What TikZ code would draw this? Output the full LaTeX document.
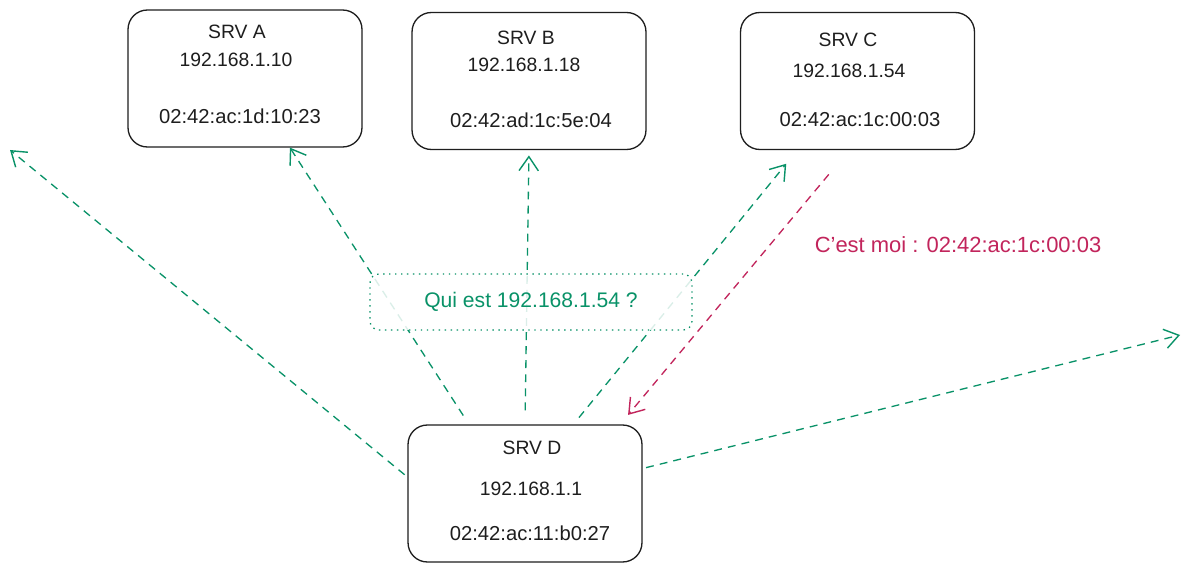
\documentclass[tikz,border=0pt]{standalone}
\usepackage{fontspec}
\setmainfont{Liberation Sans}
\usetikzlibrary{calc,arrows.meta}
\definecolor{xink}{HTML}{1E1E1E}
\definecolor{xgreen}{HTML}{099268}
\definecolor{xred}{HTML}{C2255C}
\def\arptip{{Straight Barb[length=8pt,width=11pt,line width=0.8pt]}}

\begin{document}
\begin{tikzpicture}[x=0.02cm, y=-0.02cm,
		srvbox/.style={draw=xink, line width=0.75pt, rounded corners=11pt, minimum width=4.68cm, minimum height=2.74cm, inner sep=0pt},
		lbl/.style={text=xink, font=\fontsize{11}{13}\selectfont},
		query/.style={draw=xgreen, line width=0.75pt, dash pattern=on 4.5pt off 3.5pt, -\arptip},
		reply/.style={draw=xred, line width=0.75pt, dash pattern=on 4.5pt off 3.5pt, -\arptip}]
		%%%%% START %%%%%
		
		\useasboundingbox[fill=white] (0, 0) rectangle (1192, 574);
		
		\node[srvbox] (srvA) at (245, 78.5) {};
		\node[lbl] (srvAname) at (237, 32) {SRV A};
		\node[lbl] (srvAip) at (236, 60) {192.168.1.10};
		\node[lbl, font=\fontsize{11.5}{13}\selectfont] (srvAmac) at (240, 116) {02:42:ac:1d:10:23};
		
		\node[srvbox] (srvB) at (529, 81) {};
		\node[lbl] (srvBname) at (526, 38) {SRV B};
		\node[lbl] (srvBip) at (524, 65) {192.168.1.18};
		\node[lbl, font=\fontsize{11.5}{13}\selectfont] (srvBmac) at (531, 120) {02:42:ad:1c:5e:04};
		
		\node[srvbox] (srvC) at (857.5, 81) {};
		\node[lbl] (srvCname) at (848, 40) {SRV C};
		\node[lbl] (srvCip) at (849, 71) {192.168.1.54};
		\node[lbl, font=\fontsize{11.5}{13}\selectfont] (srvCmac) at (860, 120) {02:42:ac:1c:00:03};
		
		\node[srvbox] (srvD) at (525, 493.5) {};
		\node[lbl] (srvDname) at (532, 448) {SRV D};
		\node[lbl] (srvDip) at (531, 489) {192.168.1.1};
		\node[lbl, font=\fontsize{11.5}{13}\selectfont] (srvDmac) at (530, 533) {02:42:ac:11:b0:27};
		
		\coordinate (bcastL) at (10, 150);
		\coordinate (bcastR) at (1180, 335);
		
		% broadcast
		\draw[query, shorten <=2pt] (srvD.172.5) -- (bcastL);
		\draw[query, shorten <=6pt] (srvD.129) -- (srvA.-57);
		\draw[query, shorten <=8pt, shorten >=3pt] (srvD.north) -- (srvB.south);
		\draw[query, shorten <=5pt, shorten >=10pt] (srvD.55.5) -- (srvC.-131);
		\draw[query, shorten <=2pt] (srvD.12.3) -- (bcastR);
		
		% answer
		\draw[reply, shorten <=18pt, shorten >=7pt] (srvC.-97) -- (srvD.36.8);
		\node[text=xred, font=\fontsize{12.5}{14}\selectfont] (isat) at (958, 245) {C'est moi : 02:42:ac:1c:00:03};
		
		\node[draw=xgreen, line width=0.75pt, dash pattern=on 0.8pt off 2.6pt, rounded corners=5pt, fill=white, fill opacity=0.85, text opacity=1, text=xgreen, minimum width=6.44cm, minimum height=1.12cm, font=\fontsize{12}{14}\selectfont] (whohas) at (531, 302) {Qui est 192.168.1.54 ?};
		
		%%%%% END %%%%%
	\end{tikzpicture}
\end{document}
